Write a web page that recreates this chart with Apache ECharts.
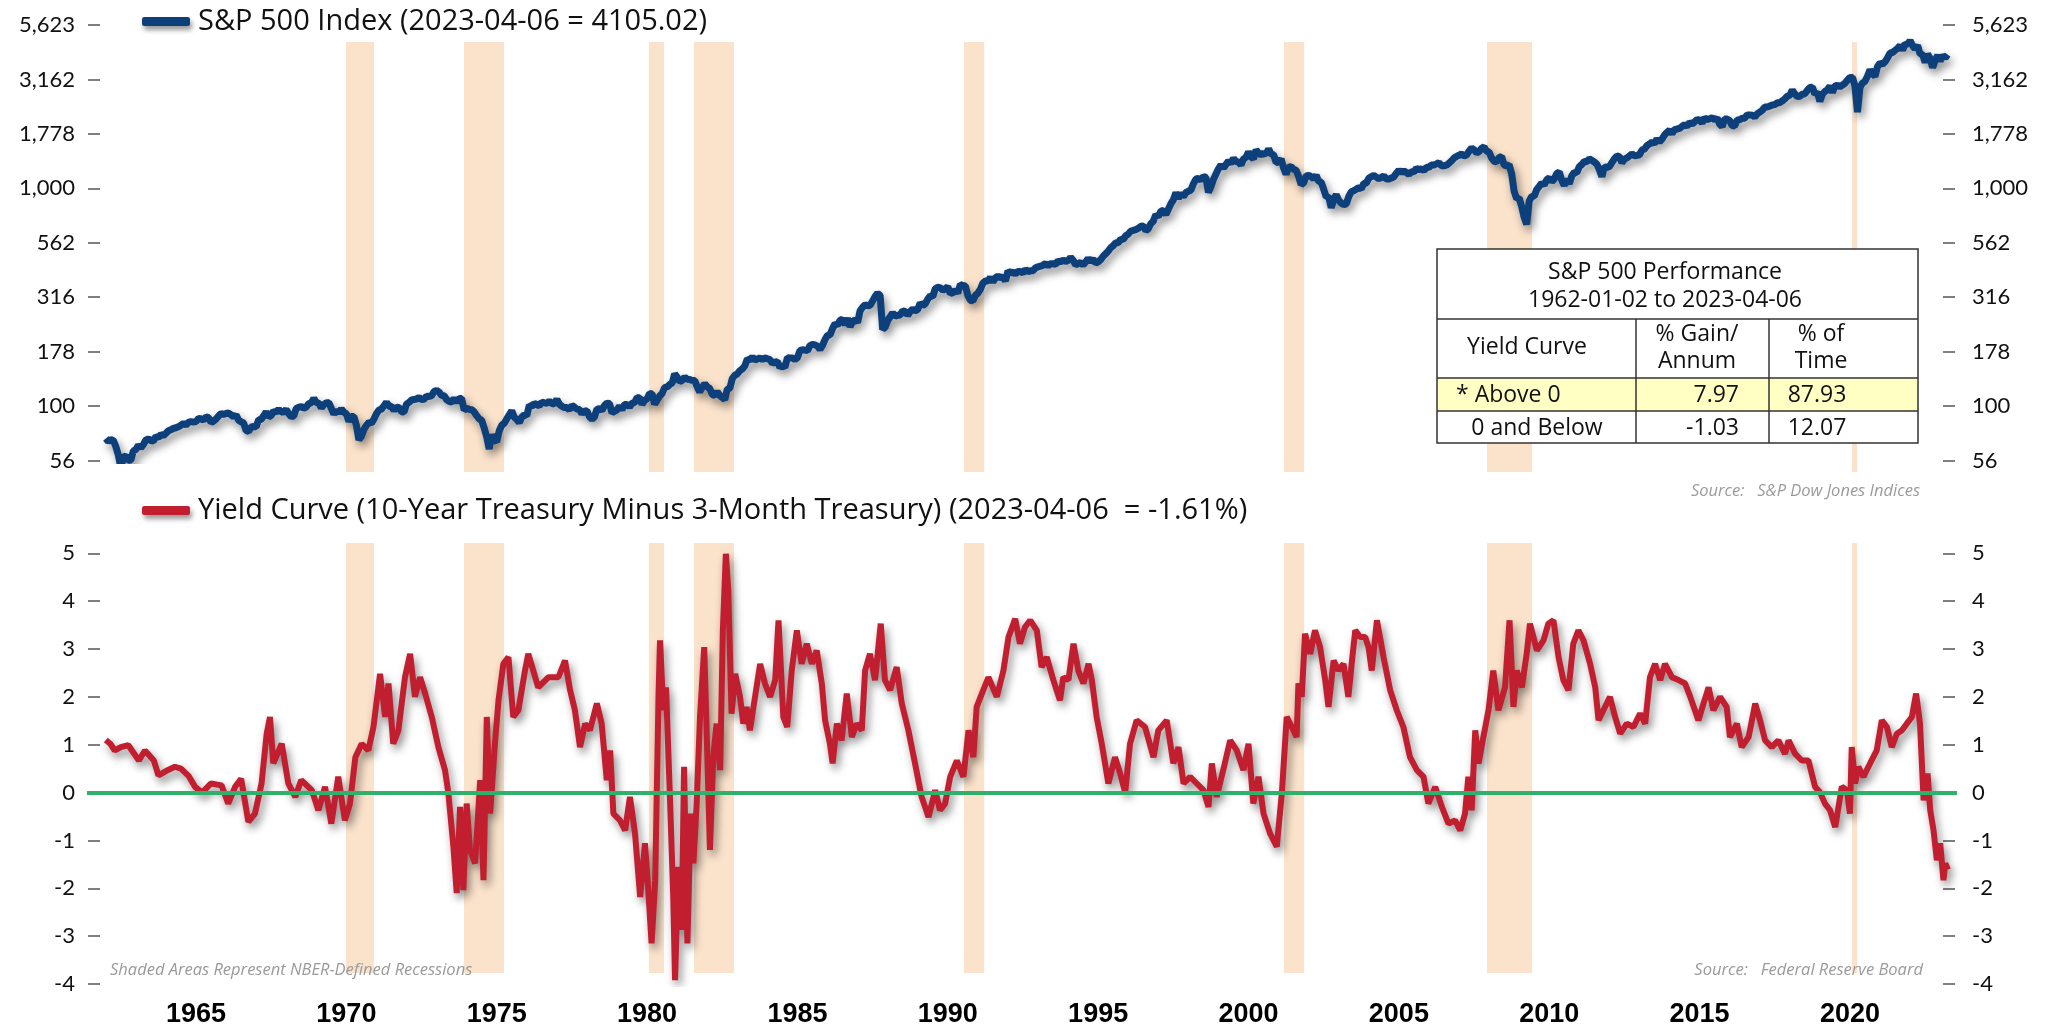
<!DOCTYPE html>
<html>
<head>
<meta charset="utf-8">
<title>S&amp;P 500 Index and Yield Curve</title>
<script src="https://cdn.jsdelivr.net/npm/echarts@6/dist/echarts.min.js"></script>
<style>
  html, body { margin: 0; padding: 0; background: #fff; }
  #main { width: 2048px; height: 1029px; }
</style>
</head>
<body>
<div id="main"></div>
<script>
// ---- data ----
var spxName = 'S&P 500 Index (2023-04-06 = 4105.02)';
var spreadName = 'Yield Curve (10-Year Treasury Minus 3-Month Treasury) (2023-04-06  = -1.61%)';

// S&P 500: first close, then month-end closes from Jan 1962, then last close
var spxStartYear = 1962;
var spxFirst = [1962.0, 71.0];
var spxMonthly = [
  68.8, 70.0, 69.6, 65.2, 59.6, 52.3, 58.2, 59.1, 56.3, 56.5, 62.3, 63.1,      // 1962
  66.2, 64.3, 66.6, 69.8, 70.8, 69.4, 69.1, 72.5, 71.7, 74.0, 73.2, 75.0,      // 1963
  77.0, 77.8, 79.0, 79.5, 80.4, 81.7, 83.2, 81.8, 84.2, 84.9, 84.4, 84.8,      // 1964
  87.6, 87.4, 86.2, 89.1, 88.4, 84.1, 85.3, 87.2, 90.0, 92.4, 91.6, 92.4,      // 1965
  92.9, 91.2, 89.2, 91.1, 86.1, 84.7, 83.6, 77.1, 76.6, 80.2, 80.5, 80.3,      // 1966
  86.6, 86.8, 90.2, 94.0, 89.1, 90.6, 94.8, 93.6, 96.7, 93.9, 94.0, 96.5,      // 1967
  92.2, 89.4, 90.2, 97.6, 98.7, 99.6, 97.7, 98.9, 102.7, 103.4, 108.4, 103.9,  // 1968
  103.0, 98.1, 101.5, 103.7, 103.5, 97.7, 91.8, 95.5, 93.1, 97.2, 93.8, 92.1,  // 1969
  85.0, 89.5, 89.6, 81.5, 70.0, 72.7, 78.1, 81.5, 84.2, 83.3, 87.2, 92.2,      // 1970
  95.9, 96.8, 100.3, 104.0, 99.6, 99.7, 95.6, 99.0, 98.3, 94.2, 94.0, 102.1,   // 1971
  103.9, 106.6, 107.2, 107.7, 109.5, 107.1, 107.4, 111.1, 110.6, 111.6, 116.7, 118.1, // 1972
  116.0, 111.7, 111.5, 107.0, 105.0, 104.3, 108.2, 104.3, 108.4, 108.3, 96.0, 97.6,   // 1973
  96.6, 96.2, 94.0, 90.3, 87.3, 86.0, 79.3, 72.2, 63.5, 73.9, 70.0, 68.6,      // 1974
  77.0, 81.6, 83.4, 87.3, 91.2, 95.2, 88.8, 86.9, 83.9, 89.0, 91.2, 90.2,      // 1975
  100.9, 99.7, 102.8, 101.6, 100.2, 104.3, 103.4, 102.9, 105.2, 102.9, 102.1, 107.5,  // 1976
  102.0, 99.8, 98.4, 98.4, 96.1, 100.5, 98.9, 96.8, 96.5, 92.3, 94.8, 95.1,    // 1977
  89.3, 87.0, 89.2, 96.8, 97.2, 95.5, 100.7, 103.3, 102.5, 93.2, 94.7, 96.1,   // 1978
  99.9, 96.3, 101.6, 101.8, 99.1, 102.9, 103.8, 109.3, 109.3, 101.8, 106.2, 107.9,    // 1979
  114.2, 113.7, 102.1, 106.3, 111.2, 114.2, 121.7, 122.4, 125.5, 127.5, 140.5, 135.8, // 1980
  129.6, 131.3, 136.0, 132.8, 132.6, 131.2, 130.9, 122.8, 116.2, 121.9, 126.4, 122.6, // 1981
  120.4, 113.1, 112.0, 116.4, 111.9, 109.6, 107.1, 119.5, 120.4, 133.7, 138.5, 140.6, // 1982
  145.3, 148.1, 153.0, 164.4, 162.4, 168.1, 162.6, 164.4, 166.1, 163.6, 166.4, 164.9, // 1983
  163.4, 157.1, 159.2, 160.1, 150.6, 153.2, 150.7, 166.7, 166.1, 166.1, 163.6, 167.2, // 1984
  179.6, 181.2, 180.7, 179.8, 189.6, 191.9, 190.9, 188.6, 182.1, 189.8, 202.2, 211.3, // 1985
  211.8, 226.9, 238.9, 235.5, 247.4, 250.8, 236.1, 252.9, 231.3, 244.0, 249.2, 242.2, // 1986
  274.1, 284.2, 291.7, 288.4, 290.1, 304.0, 318.7, 329.8, 321.8, 225.0, 230.3, 247.1, // 1987
  257.1, 267.8, 258.9, 261.3, 262.2, 273.5, 272.0, 261.5, 271.9, 279.0, 273.7, 277.7, // 1988
  297.5, 288.9, 294.9, 309.6, 320.5, 318.0, 346.1, 351.5, 349.2, 340.4, 346.0, 353.4, // 1989
  329.1, 331.9, 339.9, 330.8, 361.2, 358.0, 356.2, 322.6, 306.1, 304.0, 322.2, 330.2, // 1990
  343.9, 367.1, 375.2, 375.3, 389.8, 371.2, 387.8, 395.4, 387.9, 392.5, 375.2, 417.1, // 1991
  408.8, 412.7, 403.7, 415.0, 415.4, 408.1, 424.2, 414.0, 417.8, 418.7, 431.4, 435.7, // 1992
  438.8, 443.4, 451.7, 440.2, 450.2, 450.5, 448.1, 463.6, 458.9, 467.8, 461.8, 466.5, // 1993
  481.6, 467.1, 445.8, 450.9, 456.5, 444.3, 458.3, 475.5, 462.7, 472.4, 453.7, 459.3, // 1994
  470.4, 487.4, 500.7, 514.7, 533.4, 544.8, 562.1, 561.9, 584.4, 581.5, 605.4, 615.9, // 1995
  636.0, 640.4, 645.5, 654.2, 669.1, 670.6, 640.0, 652.0, 687.3, 705.3, 757.0, 740.7, // 1996
  786.2, 790.8, 757.1, 801.3, 848.3, 885.1, 954.3, 899.5, 947.3, 914.6, 955.4, 970.4, // 1997
  980, 1049, 1102, 1112, 1091, 1134, 1121, 957, 1017, 1099, 1164, 1229,              // 1998
  1280, 1238, 1286, 1335, 1302, 1373, 1329, 1320, 1283, 1363, 1389, 1469,            // 1999
  1394, 1366, 1499, 1452, 1421, 1455, 1431, 1518, 1437, 1429, 1315, 1320,            // 2000
  1366, 1240, 1160, 1249, 1256, 1224, 1211, 1134, 1041, 1060, 1139, 1148,            // 2001
  1130, 1107, 1147, 1077, 1067, 990, 912, 916, 815, 886, 936, 880,                   // 2002
  856, 841, 848, 917, 964, 975, 990, 1008, 996, 1051, 1058, 1112,                    // 2003
  1131, 1145, 1126, 1107, 1121, 1141, 1102, 1104, 1115, 1130, 1174, 1212,            // 2004
  1181, 1204, 1181, 1157, 1192, 1191, 1234, 1220, 1229, 1207, 1249, 1248,            // 2005
  1280, 1281, 1295, 1311, 1270, 1270, 1277, 1304, 1336, 1378, 1401, 1418,            // 2006
  1438, 1407, 1421, 1482, 1531, 1503, 1455, 1474, 1527, 1549, 1481, 1468,            // 2007
  1379, 1331, 1323, 1386, 1400, 1280, 1267, 1283, 1166, 969, 896, 903,               // 2008
  826, 735, 683, 873, 919, 919, 987, 1021, 1057, 1036, 1096, 1115,                   // 2009
  1074, 1104, 1169, 1187, 1089, 1031, 1102, 1049, 1141, 1183, 1181, 1258,            // 2010
  1286, 1327, 1326, 1364, 1345, 1321, 1292, 1219, 1131, 1253, 1247, 1258,            // 2011
  1312, 1366, 1408, 1398, 1310, 1362, 1379, 1407, 1441, 1412, 1416, 1426,            // 2012
  1498, 1515, 1569, 1598, 1631, 1606, 1686, 1633, 1682, 1757, 1806, 1848,            // 2013
  1783, 1859, 1872, 1884, 1924, 1960, 1931, 2003, 1972, 2018, 2068, 2059,            // 2014
  1995, 2105, 2068, 2086, 2107, 2063, 2104, 1972, 1920, 2079, 2080, 2044,            // 2015
  1940, 1932, 2060, 2065, 2097, 2099, 2174, 2171, 2168, 2126, 2199, 2239,            // 2016
  2279, 2364, 2363, 2384, 2412, 2423, 2470, 2472, 2519, 2575, 2648, 2674,            // 2017
  2824, 2714, 2641, 2648, 2705, 2718, 2816, 2902, 2914, 2712, 2760, 2507,            // 2018
  2704, 2784, 2834, 2946, 2752, 2942, 2980, 2926, 2977, 3038, 3141, 3231,            // 2019
  3226, 2954, 2237, 2912, 3044, 3100, 3271, 3500, 3363, 3270, 3622, 3756,            // 2020
  3714, 3811, 3973, 4181, 4204, 4298, 4395, 4523, 4308, 4605, 4567, 4766,            // 2021
  4516, 4374, 4530, 4132, 4132, 3785, 4130, 3955, 3586, 3872, 4080, 3840,            // 2022
  4077, 3970, 4109                                                                    // 2023
];
var spxLast = [2023.26, 4105.02];

// yield curve spread (percent), [decimal year, value]
var spread = [
  [1962.00, 1.10], [1962.15, 1.02], [1962.30, 0.88], [1962.50, 0.95], [1962.75, 0.99],
  [1963.10, 0.67], [1963.30, 0.88], [1963.60, 0.67], [1963.75, 0.36], [1964.00, 0.45],
  [1964.30, 0.54], [1964.50, 0.50], [1964.75, 0.35], [1964.97, 0.12], [1965.20, 0.00],
  [1965.50, 0.19], [1965.85, 0.15], [1966.07, -0.23], [1966.30, 0.12], [1966.50, 0.29],
  [1966.74, -0.61], [1966.96, -0.44], [1967.18, 0.19], [1967.35, 1.23], [1967.46, 1.58],
  [1967.57, 0.61], [1967.85, 1.02], [1968.07, 0.19], [1968.30, -0.09], [1968.50, 0.26],
  [1968.85, 0.05], [1969.07, -0.37], [1969.29, 0.12], [1969.50, -0.65], [1969.73, 0.33],
  [1969.95, -0.58], [1970.12, -0.23], [1970.30, 0.74], [1970.51, 1.02], [1970.73, 0.88],
  [1970.90, 1.37], [1971.12, 2.48], [1971.29, 1.58], [1971.40, 2.28], [1971.56, 1.02],
  [1971.73, 1.30], [1971.95, 2.41], [1972.12, 2.90], [1972.28, 2.00], [1972.45, 2.41],
  [1972.62, 2.07], [1972.84, 1.58], [1973.06, 0.95], [1973.28, 0.47], [1973.39, 0.00],
  [1973.56, -1.13], [1973.67, -2.10], [1973.78, -0.30], [1973.89, -2.04], [1974.00, -0.23],
  [1974.11, -1.20], [1974.28, -1.48], [1974.45, 0.26], [1974.56, -1.83], [1974.67, 1.58],
  [1974.78, -0.44], [1974.94, 1.02], [1975.06, 1.93], [1975.22, 2.69], [1975.39, 2.83],
  [1975.55, 1.58], [1975.72, 1.72], [1975.94, 2.55], [1976.05, 2.90], [1976.38, 2.20],
  [1976.72, 2.41], [1977.05, 2.41], [1977.27, 2.76], [1977.44, 2.14], [1977.60, 1.72],
  [1977.77, 0.95], [1977.94, 1.44], [1978.10, 1.30], [1978.33, 1.86], [1978.49, 1.44],
  [1978.66, 0.26], [1978.77, 0.88], [1978.88, -0.44], [1979.10, -0.58], [1979.27, -0.79],
  [1979.43, -0.09], [1979.60, -0.86], [1979.77, -2.18], [1979.93, -1.06], [1980.04, -2.04],
  [1980.15, -3.15], [1980.27, -1.83], [1980.38, 2.00], [1980.43, 3.18], [1980.54, 1.72],
  [1980.63, 2.20], [1980.76, -0.09], [1980.87, -2.18], [1980.93, -3.92], [1981.04, -1.55],
  [1981.15, -2.87], [1981.23, 0.54], [1981.34, -3.15], [1981.45, -0.44], [1981.54, -1.48],
  [1981.65, -0.23], [1981.76, 1.58], [1981.90, 3.04], [1981.98, 1.30], [1982.09, -1.20],
  [1982.20, 0.74], [1982.31, 1.44], [1982.43, 0.47], [1982.52, 3.39], [1982.62, 4.99],
  [1982.70, 4.22], [1982.81, 1.65], [1982.93, 2.48], [1983.09, 2.00], [1983.20, 1.44],
  [1983.31, 1.79], [1983.42, 1.30], [1983.59, 2.00], [1983.76, 2.69], [1983.92, 2.28],
  [1984.09, 2.00], [1984.26, 2.35], [1984.37, 3.60], [1984.53, 1.58], [1984.66, 1.37],
  [1984.81, 2.55], [1984.98, 3.39], [1985.14, 2.69], [1985.31, 3.11], [1985.48, 2.69],
  [1985.64, 2.97], [1985.81, 2.28], [1985.92, 1.51], [1986.08, 1.02], [1986.17, 0.61],
  [1986.31, 1.44], [1986.47, 1.09], [1986.64, 2.07], [1986.81, 1.16], [1986.97, 1.44],
  [1987.14, 1.30], [1987.25, 2.55], [1987.41, 2.90], [1987.58, 2.35], [1987.77, 3.53],
  [1987.91, 2.35], [1988.08, 2.14], [1988.30, 2.62], [1988.47, 1.86], [1988.69, 1.30],
  [1988.91, 0.61], [1989.13, -0.09], [1989.36, -0.51], [1989.58, 0.05], [1989.74, -0.37],
  [1989.91, -0.23], [1990.08, 0.33], [1990.30, 0.67], [1990.52, 0.33], [1990.69, 1.30],
  [1990.85, 0.74], [1990.96, 1.79], [1991.18, 2.14], [1991.35, 2.41], [1991.63, 2.00],
  [1991.85, 2.55], [1992.02, 3.25], [1992.24, 3.63], [1992.40, 3.11], [1992.57, 3.46],
  [1992.74, 3.60], [1992.96, 3.39], [1993.12, 2.62], [1993.29, 2.83], [1993.51, 2.35],
  [1993.73, 1.93], [1993.84, 2.41], [1994.01, 2.35], [1994.18, 3.11], [1994.34, 2.55],
  [1994.51, 2.28], [1994.68, 2.69], [1994.79, 2.35], [1994.95, 1.58], [1995.12, 1.02],
  [1995.34, 0.19], [1995.56, 0.74], [1995.73, 0.40], [1995.90, 0.00], [1996.06, 1.02],
  [1996.28, 1.51], [1996.56, 1.37], [1996.84, 0.74], [1997.00, 1.30], [1997.28, 1.51],
  [1997.50, 0.61], [1997.67, 0.95], [1997.84, 0.19], [1998.06, 0.33], [1998.28, 0.19],
  [1998.50, 0.05], [1998.67, -0.30], [1998.78, 0.61], [1998.94, -0.09], [1999.16, 0.47],
  [1999.39, 1.09], [1999.61, 0.88], [1999.83, 0.47], [2000.00, 1.02], [2000.16, -0.23],
  [2000.33, 0.33], [2000.50, -0.44], [2000.72, -0.86], [2000.94, -1.13], [2001.11, 0.00],
  [2001.27, 1.58], [2001.44, 1.37], [2001.60, 1.16], [2001.66, 2.28], [2001.77, 2.00],
  [2001.88, 3.32], [2002.05, 2.90], [2002.21, 3.39], [2002.38, 3.04], [2002.55, 2.35],
  [2002.66, 1.79], [2002.83, 2.76], [2002.99, 2.55], [2003.16, 2.69], [2003.32, 2.00],
  [2003.43, 2.69], [2003.55, 3.39], [2003.71, 3.25], [2003.88, 3.25], [2003.99, 3.04],
  [2004.10, 2.55], [2004.27, 3.60], [2004.49, 2.83], [2004.71, 2.14], [2004.93, 1.72],
  [2005.15, 1.37], [2005.37, 0.74], [2005.60, 0.47], [2005.82, 0.33], [2005.98, -0.23],
  [2006.21, 0.12], [2006.43, -0.30], [2006.65, -0.65], [2006.87, -0.58], [2007.04, -0.79],
  [2007.20, -0.44], [2007.31, 0.33], [2007.42, -0.37], [2007.54, 1.30], [2007.65, 0.61],
  [2007.81, 1.16], [2007.98, 1.72], [2008.14, 2.55], [2008.31, 1.72], [2008.53, 2.20],
  [2008.68, 3.60], [2008.81, 1.79], [2008.92, 2.55], [2009.09, 2.20], [2009.25, 2.90],
  [2009.36, 3.53], [2009.59, 2.97], [2009.81, 3.18], [2009.97, 3.53], [2010.14, 3.60],
  [2010.31, 2.83], [2010.47, 2.35], [2010.64, 2.14], [2010.80, 3.11], [2010.97, 3.39],
  [2011.14, 3.18], [2011.36, 2.69], [2011.53, 2.20], [2011.64, 1.51], [2011.80, 1.72],
  [2012.02, 2.00], [2012.19, 1.58], [2012.36, 1.23], [2012.58, 1.44], [2012.80, 1.37],
  [2013.02, 1.65], [2013.19, 1.44], [2013.35, 2.41], [2013.52, 2.69], [2013.69, 2.35],
  [2013.85, 2.69], [2014.08, 2.41], [2014.30, 2.35], [2014.52, 2.28], [2014.69, 2.00],
  [2014.96, 1.51], [2015.13, 1.86], [2015.30, 2.20], [2015.46, 1.72], [2015.68, 2.00],
  [2015.90, 1.79], [2016.01, 1.16], [2016.24, 1.44], [2016.40, 0.95], [2016.63, 1.16],
  [2016.85, 1.86], [2017.01, 1.51], [2017.18, 1.09], [2017.40, 0.95], [2017.62, 1.09],
  [2017.84, 0.81], [2017.96, 1.09], [2018.18, 0.81], [2018.40, 0.67], [2018.62, 0.67],
  [2018.84, 0.12], [2019.01, 0.00], [2019.17, -0.23], [2019.34, -0.37], [2019.51, -0.72],
  [2019.62, -0.30], [2019.73, 0.12], [2019.90, 0.05], [2020.00, -0.44], [2020.06, 0.95],
  [2020.17, 0.19], [2020.28, 0.54], [2020.45, 0.33], [2020.67, 0.61], [2020.89, 0.88],
  [2021.06, 1.51], [2021.23, 1.37], [2021.39, 0.95], [2021.56, 1.23], [2021.73, 1.30],
  [2021.89, 1.44], [2022.06, 1.58], [2022.20, 2.07], [2022.33, 1.44], [2022.45, -0.16],
  [2022.58, 0.40], [2022.67, -0.37], [2022.78, -0.79], [2022.89, -1.41], [2023.00, -1.06],
  [2023.11, -1.83], [2023.17, -1.48], [2023.26, -1.61]
];

// NBER recessions as shaded on the chart, [start, end] in decimal years
var recessions = [
  [1969.99, 1970.92], [1973.91, 1975.24], [1980.06, 1980.56], [1981.56, 1982.89],
  [1990.54, 1991.21], [2001.18, 2001.85], [2007.93, 2009.43], [2020.07, 2020.24]
];

var yearLabels = [1965, 1970, 1975, 1980, 1985, 1990, 1995, 2000, 2005, 2010, 2015, 2020];
var spxAxisRange = [56.2341, 5623.41];
var spreadAxisRange = [-4, 5];

var tableTitle = ['S&P 500 Performance', '1962-01-02 to 2023-04-06'];
var tableHead = ['Yield Curve', '% Gain/\nAnnum', '% of\nTime'];
var tableRows = [
  ['* Above 0', '7.97', '87.93'],
  ['0 and Below', '-1.03', '12.07']
];

// ---- build ----
var spxData = [spxFirst];
spxMonthly.forEach(function (v, i) {
  spxData.push([spxStartYear + (i + 1) / 12, v]);
});
spxData.push(spxLast);

var xMin = 1961.375, xMax = 2023.56;
var blue = '#0d3f7a', red = '#c11f30', green = '#2fb16c', shade = '#fae2cb';
var tickFont = { fontFamily: 'Lato, "Open Sans", sans-serif', fontSize: 22, color: '#111' };
var tblFont = '23px "Open Sans", sans-serif';
var noteFont = 'italic 16.5px "Open Sans", sans-serif';

function shadeItem(params, api) {
  var p0 = api.coord([api.value(0), 1]);
  var p1 = api.coord([api.value(1), 0]);
  return {
    type: 'rect',
    shape: { x: p0[0], y: p0[1], width: p1[0] - p0[0], height: p1[1] - p0[1] },
    style: { fill: shade }
  };
}

function yAxisCfg(grid, pos, off, margin, extra) {
  var cfg = {
    gridIndex: grid, position: pos, offset: off,
    axisLine: { show: false },
    axisTick: { show: true, length: 12, lineStyle: { color: '#555', width: 1.5 } },
    splitLine: { show: false },
    axisLabel: Object.assign({ margin: margin, showMinLabel: true, showMaxLabel: true }, tickFont)
  };
  return Object.assign(cfg, extra);
}

var logExtra = {
  type: 'log', logBase: Math.pow(10, 0.25),
  min: spxAxisRange[0], max: spxAxisRange[1]
};
var spxFmt = function (v) { return Math.round(v).toLocaleString('en-US'); };
var valExtra = { type: 'value', min: spreadAxisRange[0], max: spreadAxisRange[1], interval: 1 };

function txt(x, y, s, align, font, fill, extra) {
  return {
    type: 'text', z: 12, x: x, y: y,
    style: Object.assign({ text: s, align: align, verticalAlign: 'middle', font: font, fill: fill || '#111' }, extra || {})
  };
}
function hline(y) {
  return { type: 'line', z: 11, shape: { x1: 1437, y1: y, x2: 1918, y2: y }, style: { stroke: '#333', lineWidth: 1.5 } };
}
function vline(x) {
  return { type: 'line', z: 11, shape: { x1: x, y1: 319, x2: x, y2: 443 }, style: { stroke: '#333', lineWidth: 1.5 } };
}

var legendBase = {
  left: 137, icon: 'roundRect', itemWidth: 48, itemHeight: 9, itemGap: 0,
  itemStyle: { shadowBlur: 5, shadowColor: 'rgba(0,0,0,0.4)', shadowOffsetX: 2, shadowOffsetY: 4 },
  textStyle: { fontFamily: '"Open Sans", sans-serif', fontSize: 29, color: '#111', padding: [0, 0, 0, 3] }
};

var chart = echarts.init(document.getElementById('main'));

var option = {
  backgroundColor: '#fff',
  animation: false,
  grid: [
    { left: 87, width: 1870, top: 25, height: 435.5 },
    { left: 87, width: 1870, top: 553.3, height: 430.7 },
    { left: 87, width: 1870, top: 42, height: 430 },
    { left: 87, width: 1870, top: 543, height: 430 }
  ],
  xAxis: [0, 1, 2, 3].map(function (g) {
    var ax = {
      type: 'value', gridIndex: g, min: xMin, max: xMax,
      axisLine: { show: false }, axisTick: { show: false },
      splitLine: { show: false }, axisLabel: { show: false }
    };
    if (g === 1) {
      ax.axisLabel = {
        show: true, customValues: yearLabels, margin: 17,
        fontFamily: '"Liberation Sans", Arial, sans-serif',
        fontWeight: 'bold', fontSize: 27, color: '#000',
        formatter: function (v) { return String(Math.round(v)); }
      };
    }
    return ax;
  }),
  yAxis: [
    yAxisCfg(0, 'left', -13, 25, Object.assign({}, logExtra)),
    yAxisCfg(0, 'right', -14, 29, Object.assign({}, logExtra)),
    yAxisCfg(1, 'left', -13, 25, valExtra),
    yAxisCfg(1, 'right', -14, 29, Object.assign({}, valExtra)),
    { gridIndex: 2, type: 'value', min: 0, max: 1, show: false },
    { gridIndex: 3, type: 'value', min: 0, max: 1, show: false }
  ],
  legend: [
    Object.assign({ data: [spxName], top: 2 }, legendBase),
    Object.assign({ data: [spreadName], top: 491 }, legendBase)
  ],
  series: [
    {
      type: 'custom', xAxisIndex: 2, yAxisIndex: 4, z: 1, silent: true,
      renderItem: shadeItem, encode: { x: [0, 1] }, data: recessions
    },
    {
      type: 'custom', xAxisIndex: 3, yAxisIndex: 5, z: 1, silent: true,
      renderItem: shadeItem, encode: { x: [0, 1] }, data: recessions
    },
    {
      name: spxName, type: 'line', xAxisIndex: 0, yAxisIndex: 0, z: 3,
      data: spxData, showSymbol: false, symbol: 'none', color: blue,
      lineStyle: { width: 7, color: blue, shadowBlur: 8, shadowColor: 'rgba(0,0,0,0.45)', shadowOffsetX: 3, shadowOffsetY: 5 }
    },
    {
      name: spreadName, type: 'line', xAxisIndex: 1, yAxisIndex: 2, z: 3,
      data: spread, showSymbol: false, symbol: 'none', color: red,
      lineStyle: { width: 6, color: red, shadowBlur: 8, shadowColor: 'rgba(0,0,0,0.45)', shadowOffsetX: 3, shadowOffsetY: 5 }
    },
    {
      type: 'line', xAxisIndex: 1, yAxisIndex: 2, z: 4, silent: true,
      data: [], symbol: 'none',
      markLine: {
        silent: true, symbol: 'none', label: { show: false },
        lineStyle: { type: 'solid', width: 4, color: green },
        data: [{ yAxis: 0 }]
      }
    }
  ],
  graphic: [
    // performance table
    { type: 'rect', z: 9, shape: { x: 1437, y: 249, width: 481, height: 194 }, style: { fill: '#fff' } },
    { type: 'rect', z: 10, shape: { x: 1437, y: 378, width: 481, height: 33 }, style: { fill: '#ffffc4' } },
    { type: 'rect', z: 11, shape: { x: 1437, y: 249, width: 481, height: 194 }, style: { fill: 'rgba(255,255,255,0)', stroke: '#333', lineWidth: 1.5 } },
    hline(319), hline(378), hline(411), vline(1636), vline(1769),
    txt(1665, 272, tableTitle[0], 'center', tblFont),
    txt(1665, 300, tableTitle[1], 'center', tblFont),
    txt(1527, 347, tableHead[0], 'center', tblFont),
    txt(1697, 348, tableHead[1], 'center', tblFont, '#111', { lineHeight: 27 }),
    txt(1821, 348, tableHead[2], 'center', tblFont, '#111', { lineHeight: 27 }),
    txt(1456, 395, tableRows[0][0], 'left', tblFont),
    txt(1739, 395, tableRows[0][1], 'right', tblFont),
    txt(1817, 395, tableRows[0][2], 'center', tblFont),
    txt(1537, 428, tableRows[1][0], 'center', tblFont),
    txt(1739, 428, tableRows[1][1], 'right', tblFont),
    txt(1817, 428, tableRows[1][2], 'center', tblFont),
    // notes
    txt(1920, 491, 'Source:   S&P Dow Jones Indices', 'right', noteFont, '#9a9a9a'),
    txt(1923, 970, 'Source:   Federal Reserve Board', 'right', noteFont, '#9a9a9a'),
    txt(110, 970, 'Shaded Areas Represent NBER-Defined Recessions', 'left', noteFont, '#9a9a9a')
  ]
};

option.yAxis[0].axisLabel.formatter = spxFmt;
option.yAxis[1].axisLabel.formatter = spxFmt;

chart.setOption(option);
</script>
</body>
</html>
